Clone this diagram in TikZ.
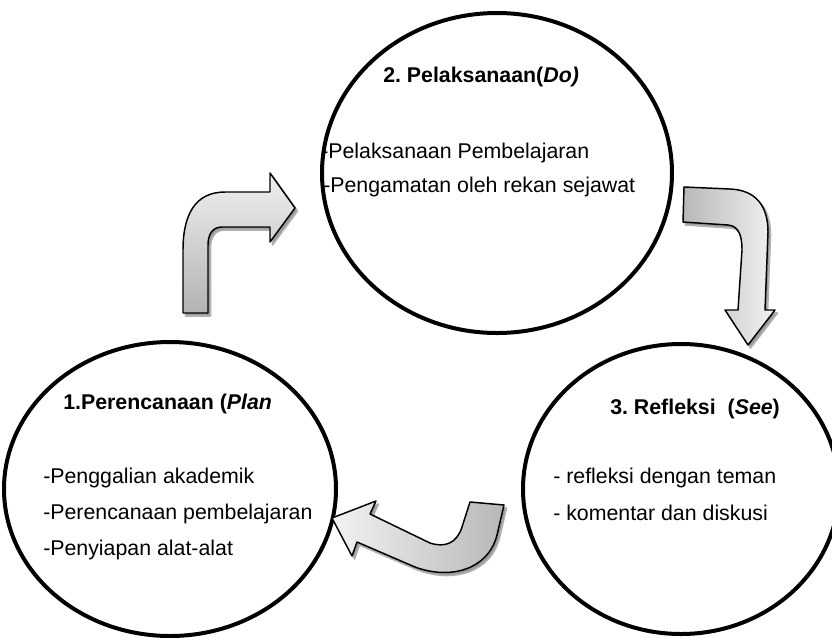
\documentclass[tikz,border=0pt]{standalone}
\usepackage{fontspec}
\setmainfont{Liberation Sans}
\usetikzlibrary{shapes.geometric}
\frenchspacing
\tikzset{
  cyc/.style={ellipse, draw=black, line width=3pt, inner sep=0pt, fill=white},
  ttl/.style={font=\fontsize{16}{19}\selectfont\bfseries, anchor=base west, inner sep=0pt},
  itm/.style={font=\fontsize{16}{19}\selectfont, anchor=base west, inner sep=0pt},
  barrow/.style={draw=black, line width=1.1pt, line join=round},
  ashadow/.style={fill=black!40, draw=black!30, line width=1.2pt, line join=round}
}
\begin{document}
\begin{tikzpicture}[x=0.75pt,y=-0.75pt]
\useasboundingbox (0,0) rectangle (832,637);
% circles
\node[cyc, minimum width=262.5pt, minimum height=240pt] (do) at (497,173) {};
\node[cyc, minimum width=249pt, minimum height=220.5pt] (plan) at (170,489) {};
\node[cyc, minimum width=237pt, minimum height=217.5pt] (see) at (681,489) {};
% texts
\node[ttl] (dot) at (383,82) {2. Pelaksanaan(\textit{Do)}};
\node[itm] (do1) at (321,158) {-Pelaksanaan Pembelajaran};
\node[itm] (do2) at (323,192) {-Pengamatan oleh rekan sejawat};
\node[ttl] (plant) at (63,409) {1.Perencanaan (\textit{Plan}};
\node[itm] (plan1) at (43,483) {-Penggalian akademik};
\node[itm] (plan2) at (43,519) {-Perencanaan pembelajaran};
\node[itm] (plan3) at (43,555) {-Penyiapan alat-alat};
\node[ttl] (seet) at (610,414) {3. Refleksi \ (\textit{See})};
\node[itm] (see1) at (553,483) {- refleksi dengan teman};
\node[itm] (see2) at (553,520) {- komentar dan diskusi};
% arrow 1 (plan -> do)
\def\arrA{(183,313) -- (183,250) .. controls (183,215) and (195,192) .. (225,192) -- (270,192) -- (270,173) -- (295,208) -- (270,242) -- (270,227) -- (222,227) .. controls (212,227) and (208,235) .. (208,245) -- (208,313) -- cycle}
\begin{scope}[shift={(2.5,3)}]
\path[ashadow] \arrA;
\end{scope}
\path[barrow, top color=black!6, bottom color=black!30] \arrA;
% arrow 2 (do -> see)
\def\arrB{(684,187) -- (730,189) .. controls (755,190) and (768,205) .. (768,232) -- (765,310) -- (775,310) -- (748,345) -- (725,310) -- (738,310) -- (742,250) .. controls (742,234) and (738,226) .. (728,225) -- (683,222) -- cycle}
\begin{scope}[shift={(2.5,3)}]
\path[ashadow] \arrB;
\end{scope}
\path[barrow, left color=black!28, right color=black!5] \arrB;
% arrow 3 (see -> plan)
\def\arrC{(332,518) -- (376,501) -- (370,514) -- (430,543) .. controls (445,548) and (457,543) .. (462,527) -- (470,502) -- (504,505) -- (497,535) .. controls (488,570) and (450,580) .. (415,567) -- (357,542) -- (352,556) -- cycle}
\begin{scope}[shift={(2.5,3)}]
\path[ashadow] \arrC;
\end{scope}
\path[barrow, left color=black!5, right color=black!28] \arrC;
\end{tikzpicture}
\end{document}
